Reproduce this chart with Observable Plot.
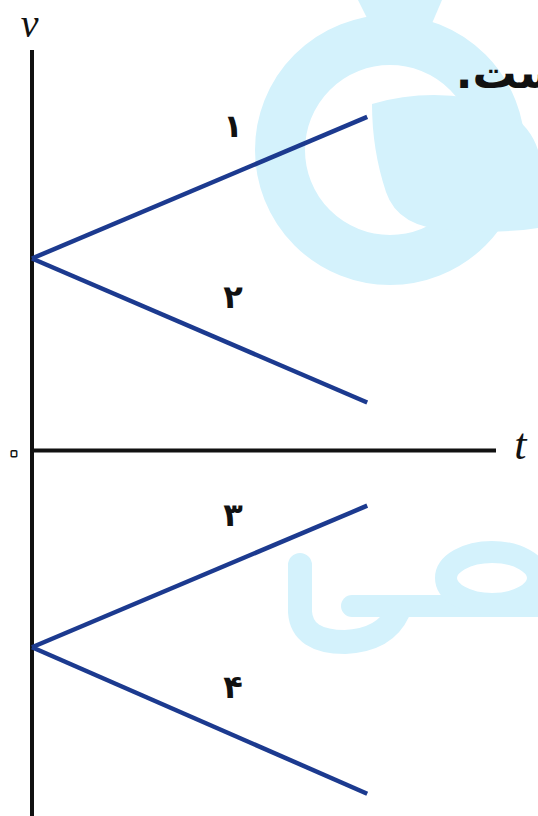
<!DOCTYPE html>
<html>
<head>
<meta charset="utf-8">
<script src="https://cdn.jsdelivr.net/npm/d3@7"></script>
<script src="https://cdn.jsdelivr.net/npm/@observablehq/plot@0.6"></script>
<style>
  html, body { margin: 0; padding: 0; background: #fff; }
  #wrap { position: relative; width: 538px; height: 816px; overflow: hidden; }
  #mark { position: absolute; left: 0; top: 0; }
  #chart { position: absolute; left: 0; top: 0; }
  #chart svg { overflow: visible; background: transparent; }
</style>
</head>
<body>
<div id="wrap">
  <!-- pale publisher emblem behind the figure -->
  <svg id="mark" width="538" height="816" viewBox="0 0 538 816">
    <g fill="none" stroke="#d4f2fc" stroke-linecap="round">
      <circle cx="390" cy="150" r="110" stroke-width="50"/>
      <path d="M300 565 L300 612 Q302 642 345 642 Q385 640 398 612" stroke-width="24"/>
      <path d="M352 606 L538 606" stroke-width="22"/>
      <ellipse cx="492" cy="578" rx="46" ry="26" stroke-width="22"/>
    </g>
    <g fill="#d4f2fc">
      <path d="M358 0 L442 0 L430 28 L372 28 Z"/>
      <path d="M372 104 Q420 90 470 98 Q525 110 538 150 L538 228 Q500 234 450 230 Q398 228 386 192 Q372 150 372 104 Z"/>
    </g>
  </svg>
  <div id="chart"></div>
</div>
<script>
// velocity–time graph: four straight lines, two starting at +v0, two at −v0
const seriesNames = ["۱", "۲", "۳", "۴"];
const tStart = 0;
const tEnd = 7;
const vStart = [4, 4, -4.1, -4.1];
const vEnd = [6.95, 1, -1.15, -7.15];
const tAxisEnd = 9.7;
const vAxisMin = -7.625;
const vAxisMax = 8.333;
const labelT = 4.2;

const segments = seriesNames.flatMap((name, i) => [
  {name, t: tStart, v: vStart[i]},
  {name, t: tEnd, v: vEnd[i]}
]);
const labels = seriesNames.map((name, i) => ({
  name,
  t: labelT,
  v: vStart[i] + (vEnd[i] - vStart[i]) * (labelT - tStart) / (tEnd - tStart)
}));

const chart = Plot.plot({
  width: 538,
  height: 816,
  marginLeft: 31.5,
  marginRight: 42,
  marginTop: 50,
  marginBottom: 0,
  x: {domain: [0, tAxisEnd], axis: null},
  y: {domain: [vAxisMin, vAxisMax], axis: null},
  style: {background: "transparent"},
  marks: [
    Plot.ruleX([0], {y1: vAxisMin, y2: vAxisMax, stroke: "#111", strokeWidth: 4}),
    Plot.ruleY([0], {x1: 0, x2: tAxisEnd, stroke: "#111", strokeWidth: 4}),
    Plot.line(segments, {x: "t", y: "v", z: "name", stroke: "#1c3a8f", strokeWidth: 4.5, strokeLinecap: "butt"}),
    Plot.text(labels, {x: "t", y: "v", text: "name", dy: -47, fontSize: 32, fontWeight: "bold", fontFamily: "DejaVu Sans", fill: "#111"}),
    // axis names and origin
    Plot.text(["v"], {x: -0.05, y: 8.88, text: d => d, fontSize: 40, fontStyle: "italic", fontFamily: "Liberation Serif", fill: "#111"}),
    Plot.text(["t"], {x: 10.2, y: 0.12, text: d => d, fontSize: 44, fontStyle: "italic", fontFamily: "Liberation Serif", fill: "#111"}),
    Plot.text(["۰"], {x: -0.38, y: -0.05, text: d => d, fontSize: 36, fontFamily: "DejaVu Sans", fill: "#fff", stroke: "#111", strokeWidth: 3, strokeLinejoin: "round"}),
    // tail of the sentence above the figure
    Plot.text(["\u200Fاست.\u200F"], {x: 8.85, y: 7.85, text: d => d, textAnchor: "start", fontSize: 44, fontWeight: "bold", fontFamily: "DejaVu Sans", fill: "#111"})
  ]
});
document.getElementById("chart").appendChild(chart);
</script>
</body>
</html>
